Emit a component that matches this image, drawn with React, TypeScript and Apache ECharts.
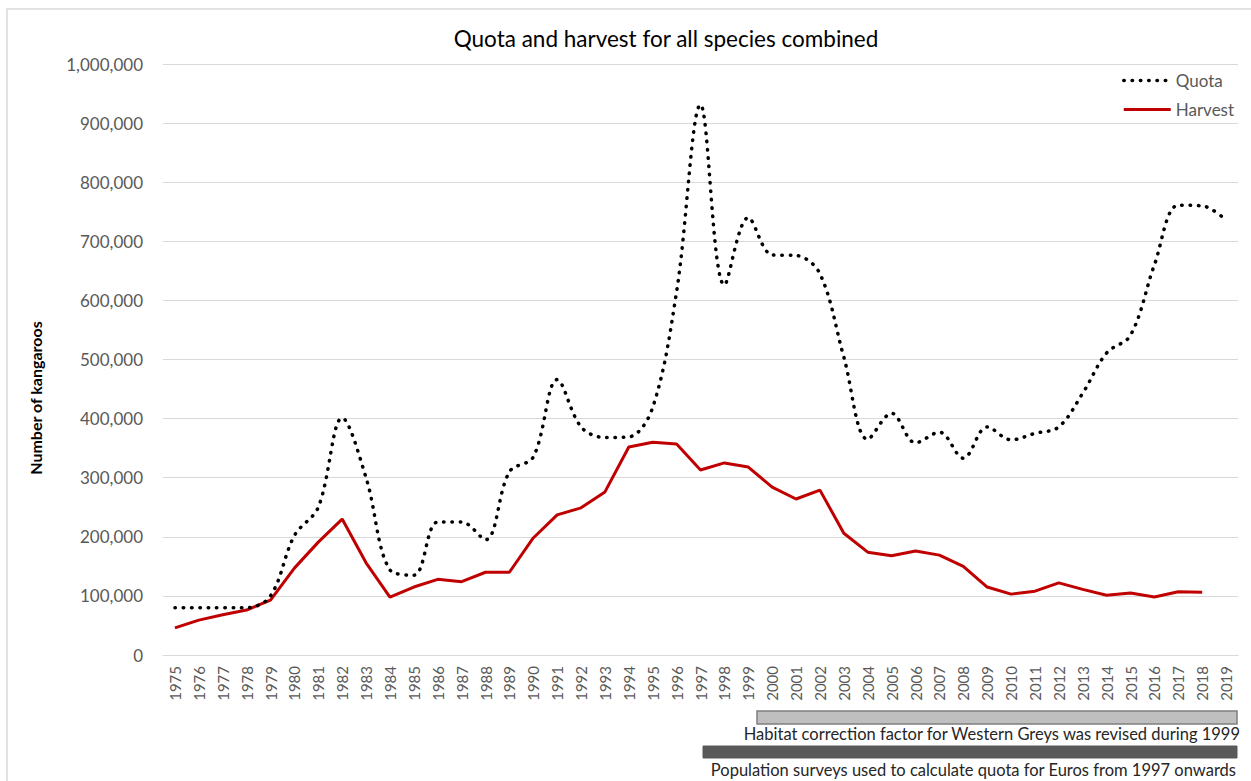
import React, { useEffect, useRef } from "react";
import * as echarts from "echarts";

const years = [
  "1975", "1976", "1977", "1978", "1979", "1980", "1981", "1982", "1983", "1984",
  "1985", "1986", "1987", "1988", "1989", "1990", "1991", "1992", "1993", "1994",
  "1995", "1996", "1997", "1998", "1999", "2000", "2001", "2002", "2003", "2004",
  "2005", "2006", "2007", "2008", "2009", "2010", "2011", "2012", "2013", "2014",
  "2015", "2016", "2017", "2018", "2019",
];

const quota = [
  80000, 80000, 80000, 80000, 100000,
  202000, 250000, 401000, 300000, 144000,
  135000, 225000, 225000, 195000, 310000,
  335000, 466000, 386000, 368000, 369000,
  419000, 615000, 931000, 626000, 740000,
  677000, 676000, 645000, 504000, 365000,
  409000, 359000, 377000, 333000, 386000,
  364000, 375000, 386000, 443000, 511000,
  541000, 660000, 761000, 760000, 736000,
];

const harvest = [
  46000, 59000, 68000, 76000, 93000,
  147000, 191000, 230000, 156000, 98000,
  115000, 128000, 124000, 140000, 140000,
  198000, 237000, 249000, 276000, 352000,
  360000, 357000, 313000, 325000, 318000,
  284000, 264000, 279000, 206000, 174000,
  168000, 176000, 169000, 150000, 115000,
  103000, 108000, 122000, 111000, 101000,
  105000, 98000, 107000, 106000, null,
];

const yTicks = { min: 0, max: 1000000, interval: 100000 };

const titleText = "Quota and harvest for all species combined";
const yAxisName = "Number of kangaroos";
const note1 = "Habitat correction factor for Western Greys was revised during 1999";
const note2 = "Population surveys used to calculate quota for Euros from 1997 onwards";

const FONT = "Lato, 'Open Sans', sans-serif";

export default function App() {
  const ref = useRef<HTMLDivElement>(null);

  useEffect(() => {
    if (!ref.current) return;
    const chart = echarts.init(ref.current, null, { renderer: "svg" });
    chart.setOption({
      animation: false,
      backgroundColor: "#ffffff",
      textStyle: { fontFamily: FONT },
      legend: {
        orient: "vertical",
        left: 1117,
        top: 67,
        itemWidth: 47,
        itemHeight: 14,
        itemGap: 12,
        itemStyle: { opacity: 0 },
        textStyle: { fontSize: 17, color: "#595959", fontFamily: FONT },
        data: [
          { name: "Quota", lineStyle: { width: 3.5 } },
          { name: "Harvest", lineStyle: { width: 3 } },
        ],
      },
      grid: { left: 163, right: 13, top: 64, bottom: 126, containLabel: false },
      xAxis: {
        type: "category",
        data: years,
        boundaryGap: true,
        axisLine: { show: true, lineStyle: { color: "#d9d9d9", width: 1 } },
        axisTick: { show: false },
        axisLabel: {
          rotate: 90,
          interval: 0,
          margin: 11,
          fontSize: 15,
          color: "#595959",
          fontFamily: FONT,
        },
      },
      yAxis: {
        type: "value",
        min: yTicks.min,
        max: yTicks.max,
        interval: yTicks.interval,
        axisLine: { show: false },
        axisTick: { show: false },
        splitLine: { lineStyle: { color: "#d9d9d9", width: 1 } },
        axisLabel: {
          margin: 20,
          fontSize: 17,
          color: "#595959",
          fontFamily: FONT,
          formatter: (v: number) => v.toLocaleString("en-US"),
        },
      },
      series: [
        {
          name: "Quota",
          type: "line",
          data: quota,
          smooth: 0.35,
          symbol: "none",
          lineStyle: { color: "#000000", width: 3.5, type: [0.5, 7.8], cap: "round" },
          itemStyle: { color: "#000000" },
          z: 3,
        },
        {
          name: "Harvest",
          type: "line",
          data: harvest,
          symbol: "none",
          lineStyle: { color: "#c00000", width: 3 },
          itemStyle: { color: "#c00000" },
          z: 2,
        },
      ],
      graphic: [
        {
          type: "rect",
          shape: { x: 7, y: 9, width: 1400, height: 900 },
          style: { fill: "none", stroke: "#d9d9d9", lineWidth: 1.5 },
          silent: true,
          z: -10,
        },
        {
          type: "text",
          x: 666,
          y: 38,
          style: {
            text: titleText,
            fill: "#000000",
            font: `22.5px ${FONT}`,
            textAlign: "center",
            textVerticalAlign: "middle",
          },
        },
        {
          type: "text",
          x: 35,
          y: 398,
          rotation: Math.PI / 2,
          style: {
            text: yAxisName,
            fill: "#000000",
            font: `bold 16px ${FONT}`,
            textAlign: "center",
            textVerticalAlign: "middle",
          },
        },
        {
          type: "rect",
          shape: { x: 757, y: 711, width: 480, height: 13 },
          style: { fill: "#bfbfbf", stroke: "#7f7f7f", lineWidth: 1.5 },
        },
        {
          type: "text",
          x: 1240,
          y: 734,
          style: {
            text: note1,
            fill: "#262626",
            font: `16.5px ${FONT}`,
            textAlign: "right",
            textVerticalAlign: "middle",
          },
        },
        {
          type: "rect",
          shape: { x: 703, y: 746, width: 534, height: 12 },
          style: { fill: "#595959", stroke: "#595959", lineWidth: 1 },
        },
        {
          type: "text",
          x: 1236,
          y: 770,
          style: {
            text: note2,
            fill: "#262626",
            font: `16.5px ${FONT}`,
            textAlign: "right",
            textVerticalAlign: "middle",
          },
        },
      ],
    });
    return () => chart.dispose();
  }, []);

  return (
    <div
      ref={ref}
      style={{ position: "absolute", left: 0, top: 0, width: 1251, height: 781 }}
    />
  );
}
